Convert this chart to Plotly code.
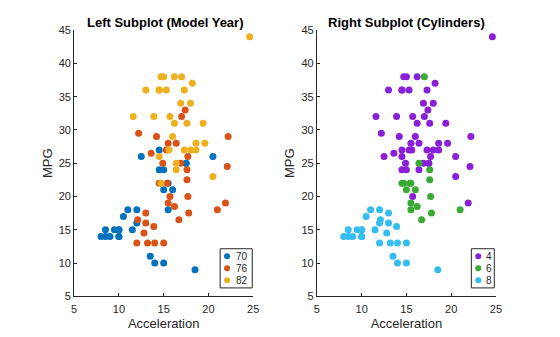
import plotly.graph_objects as go

# Cars by model year: acceleration (s), fuel economy (MPG), cylinders
accel_70 = [12.0, 11.5, 11.0, 12.0, 10.5, 10.0, 9.0, 8.5, 10.0, 8.5, 10.0, 8.0, 9.5, 10.0,
            15.0, 15.5, 15.5, 16.0, 14.5, 20.5, 17.5, 14.5, 17.5, 12.5, 15.0, 14.0, 15.0, 13.5, 18.5]
mpg_70 = [18, 15, 18, 16, 17, 15, 14, 14, 14, 15, 15, 14, 15, 14,
          24, 22, 18, 21, 27, 26, 25, 24, 25, 26, 21, 10, 10, 11, 9]
cyl_70 = [8, 8, 8, 8, 8, 8, 8, 8, 8, 8, 8, 8, 8, 8,
          4, 6, 6, 6, 4, 4, 4, 4, 4, 4, 6, 8, 8, 8, 8]

accel_76 = [15.5, 16.9, 14.9, 17.7, 15.3, 13.0, 13.0, 13.9, 12.8, 15.4, 14.5, 17.6, 17.6, 22.2,
            22.1, 14.2, 17.4, 17.7, 21.0, 16.2, 17.8, 12.2, 17.0, 16.4, 13.6, 15.7, 13.2, 21.9,
            15.5, 16.7, 12.1, 12.0, 15.0, 14.0]
mpg_76 = [28, 25, 25, 26, 27, 17.5, 16, 15.5, 14.5, 22, 22, 24, 22.5, 29,
          24.5, 29, 33, 20, 18, 18.5, 17.5, 29.5, 32, 28, 26.5, 20, 13, 19,
          19, 16.5, 16.5, 13, 13, 13]
cyl_76 = [4, 4, 4, 4, 4, 8, 8, 8, 8, 6, 6, 6, 6, 4,
          4, 4, 4, 6, 6, 6, 6, 4, 4, 4, 4, 4, 8, 4,
          6, 6, 8, 8, 8, 8]

accel_82 = [19.6, 18.6, 18.0, 16.2, 16.0, 18.0, 16.4, 20.5, 15.3, 18.2, 17.6, 14.7, 17.3, 14.5,
            14.5, 16.9, 15.0, 15.7, 16.2, 16.4, 17.0, 14.5, 14.7, 13.9, 13.0, 17.3, 15.6, 24.6,
            11.6, 18.6, 19.4]
mpg_82 = [28, 27, 34, 31, 29, 27, 24, 23, 36, 37, 31, 38, 36, 36,
          36, 34, 38, 32, 38, 25, 38, 26, 22, 32, 36, 27, 27, 44,
          32, 28, 31]
cyl_82 = [4, 4, 4, 4, 4, 4, 4, 4, 4, 4, 4, 4, 4, 4,
          4, 4, 4, 4, 4, 6, 6, 4, 6, 4, 4, 4, 4, 4,
          4, 4, 4]

years = [70, 76, 82]
cylinders = [4, 6, 8]
x_ticks = [5, 10, 15, 20, 25]
y_ticks = [5, 10, 15, 20, 25, 30, 35, 40, 45]

year_colors = ["#0072BD", "#D95319", "#EDB120"]
cyl_colors = ["#8A1FD8", "#3AAA35", "#35BCF0"]

accel = accel_70 + accel_76 + accel_82
mpg = mpg_70 + mpg_76 + mpg_82
year = [70] * len(accel_70) + [76] * len(accel_76) + [82] * len(accel_82)
cyl = cyl_70 + cyl_76 + cyl_82

W, H = 560, 337
INK = "#262626"
FONT = "Liberation Sans, Arial, Helvetica, sans-serif"


def px(x):
    return x / W


def py(y):
    return 1 - y / H


fig = go.Figure()

for g, c in zip(years, year_colors):
    xs = [a for a, yy in zip(accel, year) if yy == g]
    ys = [m for m, yy in zip(mpg, year) if yy == g]
    fig.add_trace(go.Scatter(x=xs, y=ys, mode="markers", name=str(g), showlegend=False,
                             marker=dict(size=7, color=c, line=dict(width=0)),
                             xaxis="x", yaxis="y"))

for g, c in zip(cylinders, cyl_colors):
    xs = [a for a, cc in zip(accel, cyl) if cc == g]
    ys = [m for m, cc in zip(mpg, cyl) if cc == g]
    fig.add_trace(go.Scatter(x=xs, y=ys, mode="markers", name=str(g), showlegend=False,
                             marker=dict(size=7, color=c, line=dict(width=0)),
                             xaxis="x2", yaxis="y2"))

left_dom = [px(72.3), px(254.3)]
right_dom = [px(319), px(501)]
y_dom = [py(301), py(25)]

axis_common = dict(
    showline=True, linecolor=INK, linewidth=1, mirror=False,
    ticks="inside", ticklen=3, tickcolor=INK, tickwidth=1,
    showgrid=False, zeroline=False,
    tickfont=dict(family=FONT, size=11, color=INK),
    title_font=dict(family=FONT, size=13, color=INK),
)
x_common = dict(range=[5, 25], tickvals=x_ticks, ticklabelstandoff=3,
                title=dict(text="Acceleration", standoff=4), **axis_common)
y_common = dict(domain=y_dom, range=[5, 45], tickvals=y_ticks,
                title=dict(text="MPG", standoff=3), **axis_common)

fig.update_layout(
    width=W, height=H,
    margin=dict(l=0, r=0, t=0, b=0),
    paper_bgcolor="white", plot_bgcolor="white",
    showlegend=False,
    xaxis=dict(domain=left_dom, anchor="y", **x_common),
    yaxis=dict(anchor="x", **y_common),
    xaxis2=dict(domain=right_dom, anchor="y2", **x_common),
    yaxis2=dict(anchor="x2", **y_common),
)

# Subplot titles
for text, cx in [("Left Subplot (Model Year)", 165), ("Right Subplot (Cylinders)", 410)]:
    fig.add_annotation(text="<b>%s</b>" % text, x=px(cx), y=py(17.5), xref="paper", yref="paper",
                       showarrow=False, xanchor="center", yanchor="middle",
                       font=dict(family=FONT, size=13, color="black"))

# Boxed legends in the lower right of each panel
legend_rows = [259.5, 272, 284.5]
for labels, colors, box in [(years, year_colors, (220.7, 253.3, 234.5)),
                            (cylinders, cyl_colors, (476, 499.3, 488.5))]:
    x0, x1, tx = box
    fig.add_shape(type="rect", xref="paper", yref="paper",
                  x0=px(x0), x1=px(x1), y0=py(292.3), y1=py(251.7),
                  line=dict(color=INK, width=1), fillcolor="white", layer="above")
    dot_x = x0 + 7
    for lab, col, ry in zip(labels, colors, legend_rows):
        fig.add_shape(type="circle", xref="paper", yref="paper",
                      xsizemode="pixel", ysizemode="pixel",
                      xanchor=px(dot_x), yanchor=py(ry),
                      x0=-3, x1=3, y0=-3, y1=3,
                      line=dict(width=0), fillcolor=col, layer="above")
        fig.add_annotation(text=str(lab), x=px(tx), y=py(ry), xref="paper", yref="paper",
                           showarrow=False, xanchor="left", yanchor="middle",
                           font=dict(family=FONT, size=10, color=INK))

fig.write_html("out.html")
